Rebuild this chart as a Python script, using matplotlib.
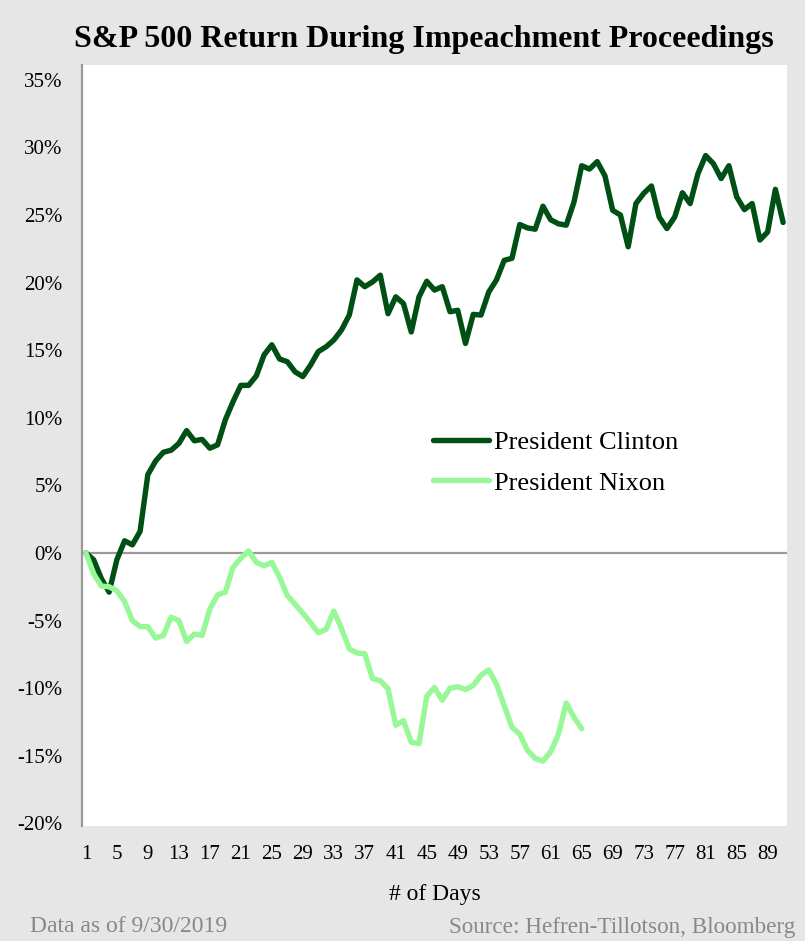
import matplotlib
matplotlib.use("Agg")
import matplotlib.pyplot as plt
import numpy as np

# S&P 500 cumulative return (%) by trading day of impeachment proceedings
clinton = [0.0, -0.5, -1.9, -2.9, -0.5, 0.9, 0.6, 1.6, 5.8, 6.8,
           7.45, 7.6, 8.1, 9.05, 8.3, 8.4, 7.75, 8.0, 9.85, 11.2,
           12.4, 12.4, 13.1, 14.65, 15.4, 14.35, 14.15, 13.4, 13.05, 13.9,
           14.9, 15.25, 15.75, 16.5, 17.6, 20.2, 19.7, 20.05, 20.55, 17.7,
           18.95, 18.45, 16.35, 18.95, 20.1, 19.45, 19.7, 17.85, 17.95, 15.5,
           17.65, 17.6, 19.3, 20.2, 21.65, 21.8, 24.3, 24.05, 23.95, 25.65,
           24.65, 24.35, 24.25, 25.95, 28.65, 28.4, 28.95, 27.9, 25.35, 25.0,
           22.65, 25.85, 26.6, 27.15, 24.85, 24.0, 24.85, 26.65, 25.85, 28.05,
           29.4, 28.8, 27.7, 28.65, 26.35, 25.4, 25.85, 23.15, 23.75, 26.9,
           24.45]
nixon = [0.0, -1.55, -2.45, -2.5, -2.8, -3.6, -5.0, -5.45, -5.45, -6.3,
         -6.1, -4.75, -5.0, -6.55, -6.0, -6.1, -4.15, -3.1, -2.9, -1.05,
         -0.4, 0.15, -0.7, -0.95, -0.7, -1.8, -3.15, -3.8, -4.45, -5.15,
         -5.9, -5.65, -4.3, -5.6, -7.1, -7.4, -7.45, -9.3, -9.45, -10.05,
         -12.75, -12.4, -14.0, -14.1, -10.6, -9.95, -10.9, -10.0, -9.9, -10.1,
         -9.8, -9.05, -8.65, -9.7, -11.3, -12.9, -13.4, -14.6, -15.2, -15.4,
         -14.7, -13.4, -11.1, -12.15, -13.0]
series_names = ["President Clinton", "President Nixon"]
series_colors = ["#004F14", "#98F898"]
yticks = list(range(-20, 40, 5))
xtick_days = list(range(1, 91, 4))

plt.rcParams["font.family"] = ["Liberation Serif", "DejaVu Serif"]

fig = plt.figure(figsize=(8.05, 9.41), dpi=100)
fig.patch.set_facecolor("#E6E6E6")

ax = fig.add_axes([82 / 805, 1 - 826 / 941, 705 / 805, 761 / 941])
ax.set_facecolor("white")

days_c = np.arange(1, len(clinton) + 1)
days_n = np.arange(1, len(nixon) + 1)

ax.axhline(0, color="#9A9A9A", lw=1.6, zorder=1)
for days, vals, name, col in [(days_c, clinton, series_names[0], series_colors[0]),
                              (days_n, nixon, series_names[1], series_colors[1])]:
    ax.plot(days, vals, color=col, lw=3.9, label=name,
            solid_joinstyle="round", solid_capstyle="round", zorder=3)

ax.set_xlim(0.5, len(clinton) + 0.5)
ax.set_ylim(-20.2, 36.1)
ax.set_yticks(yticks)
ax.set_yticklabels([f"{v}%" for v in yticks], fontsize=15)
ax.set_xticks(xtick_days)
ax.set_xticklabels([str(d) for d in xtick_days], fontsize=15)
ax.tick_params(axis="y", length=0, pad=14)
ax.tick_params(axis="x", length=0, pad=14)

for side in ["top", "right", "bottom"]:
    ax.spines[side].set_visible(False)
ax.spines["left"].set_color("#9A9A9A")
ax.spines["left"].set_linewidth(1.6)

ax.legend(loc="upper left", bbox_to_anchor=(0.498, 0.520), frameon=False,
          fontsize=19, handlelength=2.1, handletextpad=0.2, labelspacing=0.66,
          borderpad=0, borderaxespad=0)

ax.set_xlabel("# of Days", fontsize=17, labelpad=14)

fig.text(0.526, 1 - 39 / 941, "S&P 500 Return During Impeachment Proceedings",
         ha="center", va="center", fontsize=23, fontweight="bold")
fig.text(30 / 805, 1 - 927 / 941, "Data as of 9/30/2019", ha="left", va="center",
         fontsize=17, color="#888888")
fig.text(795 / 805, 1 - 927 / 941, "Source: Hefren-Tillotson, Bloomberg",
         ha="right", va="center", fontsize=16.7, color="#888888")

fig.savefig("out.png", dpi=100, facecolor=fig.get_facecolor())
